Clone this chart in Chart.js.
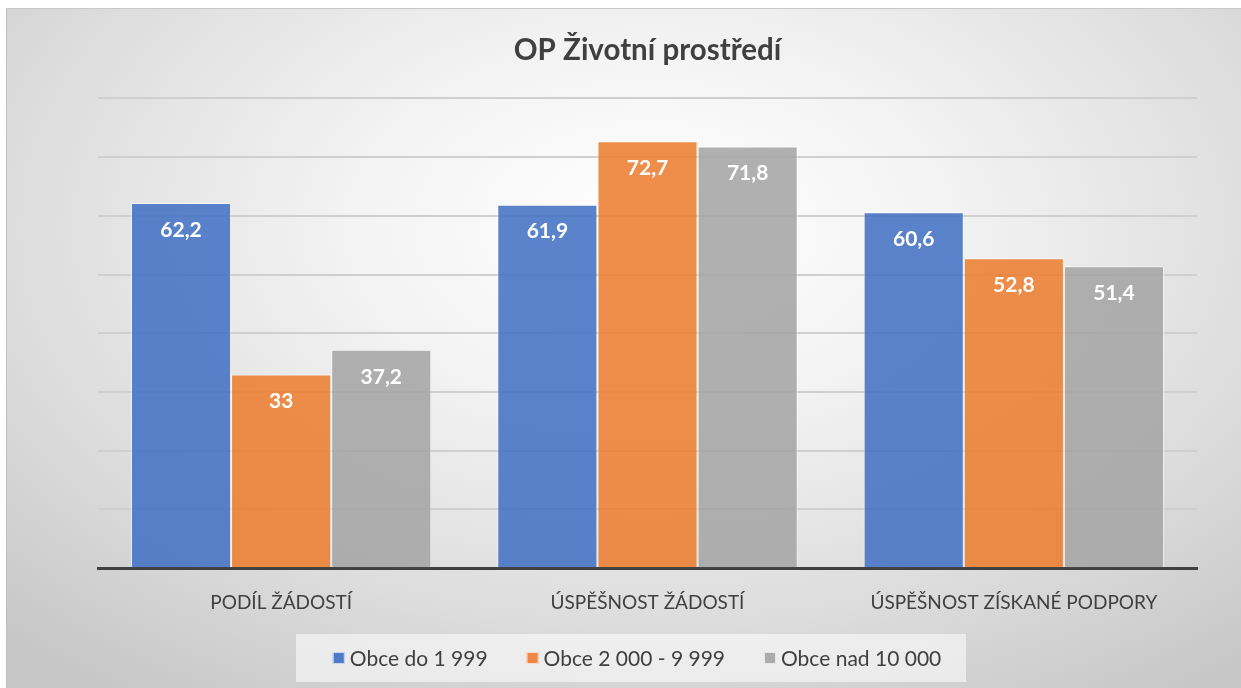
<!DOCTYPE html>
<html>
<head>
<meta charset="utf-8">
<script src="https://cdn.jsdelivr.net/npm/chart.js@4"></script>
<style>
  html, body { margin: 0; padding: 0; background: #fff; }
  #wrap {
    position: absolute; left: 6px; top: 8px; width: 1235px; height: 680px;
    background: radial-gradient(ellipse 75% 85% at 52% 32%, #ffffff 0%, #f4f4f4 30%, #dcdcdc 70%, #c6c6c6 100%);
    border-left: 1px solid #c0c0c0; border-top: 1px solid #c8c8c8;
    box-sizing: border-box;
  }
</style>
</head>
<body>
<div id="wrap"><canvas id="chart"></canvas></div>
<script>
// chart data
const categories = ['PODÍL ŽÁDOSTÍ', 'ÚSPĚŠNOST ŽÁDOSTÍ', 'ÚSPĚŠNOST ZÍSKANÉ PODPORY'];
const seriesNames = ['Obce do 1 999', 'Obce 2 000 - 9 999', 'Obce nad 10 000'];
const smallTowns = [62.2, 61.9, 60.6];
const mediumTowns = [33, 72.7, 52.8];
const largeTowns = [37.2, 71.8, 51.4];
const yTicks = [0, 10, 20, 30, 40, 50, 60, 70, 80];

const colors = ['rgba(68,114,196,0.88)', 'rgba(237,125,49,0.88)', 'rgba(165,165,165,0.88)'];
const legendColors = ['#4f7bc8', '#ee8748', '#acacac'];

// white value labels near the top of each bar
const valueLabels = {
  id: 'valueLabels',
  afterDatasetsDraw(chart) {
    const ctx = chart.ctx;
    ctx.save();
    ctx.fillStyle = '#ffffff';
    ctx.font = 'bold 21px Lato';
    ctx.textAlign = 'center';
    ctx.textBaseline = 'middle';
    chart.data.datasets.forEach((ds, i) => {
      chart.getDatasetMeta(i).data.forEach((bar, j) => {
        ctx.fillText(String(ds.data[j]).replace('.', ','), bar.x, bar.y + 27);
      });
    });
    ctx.restore();
  }
};

// legend in a light box under the axis labels
const bottomLegend = {
  id: 'bottomLegend',
  afterDraw(chart) {
    const ctx = chart.ctx;
    ctx.save();
    ctx.fillStyle = 'rgba(255,255,255,0.55)';
    ctx.fillRect(289, 625, 670, 48);
    ctx.font = '21px Lato';
    ctx.textBaseline = 'middle';
    const box = 12, gap = 5, itemGap = 39;
    const widths = seriesNames.map(n => ctx.measureText(n).width);
    const total = widths.reduce((a, w) => a + box + gap + w, 0) + itemGap * (seriesNames.length - 1);
    let x = 630 - total / 2;
    const y = 649;
    seriesNames.forEach((n, i) => {
      ctx.fillStyle = legendColors[i];
      ctx.fillRect(x, y - box / 2, box, box);
      ctx.strokeStyle = 'rgba(255,255,255,0.7)';
      ctx.lineWidth = 1;
      ctx.strokeRect(x + 0.5, y - box / 2 + 0.5, box - 1, box - 1);
      ctx.fillStyle = '#404040';
      ctx.fillText(n, x + box + gap, y + 1);
      x += box + gap + widths[i] + itemGap;
    });
    ctx.restore();
  }
};

new Chart(document.getElementById('chart'), {
  type: 'bar',
  data: {
    labels: categories,
    datasets: [smallTowns, mediumTowns, largeTowns].map((d, i) => ({
      label: seriesNames[i],
      data: d,
      backgroundColor: colors[i],
      borderColor: 'rgba(255,255,255,0.6)',
      borderWidth: 1,
      categoryPercentage: 0.82,
      barPercentage: 1
    }))
  },
  options: {
    responsive: true,
    maintainAspectRatio: false,
    animation: false,
    layout: { padding: { left: 91, right: 44, top: 0, bottom: 59 } },
    plugins: {
      title: {
        display: true,
        text: 'OP Životní prostředí',
        color: '#404040',
        font: { family: 'Lato', size: 29.5, weight: 'bold' },
        padding: { top: 24, bottom: 30 }
      },
      legend: { display: false },
      tooltip: { enabled: false }
    },
    scales: {
      x: {
        grid: { display: false },
        border: { color: '#404040', width: 3 },
        ticks: { color: '#404040', font: { family: 'Lato', size: 19 }, padding: 15 }
      },
      y: {
        min: yTicks[0],
        max: yTicks[yTicks.length - 1],
        afterBuildTicks(scale) { scale.ticks = yTicks.map(v => ({ value: v })); },
        ticks: { display: false },
        border: { display: false },
        grid: {
          drawTicks: false,
          color: ctx => ctx.tick && ctx.tick.value === 0 ? 'rgba(0,0,0,0)' : '#cfcfcf',
          lineWidth: 2
        }
      }
    }
  },
  plugins: [valueLabels, bottomLegend]
});
</script>
</body>
</html>
